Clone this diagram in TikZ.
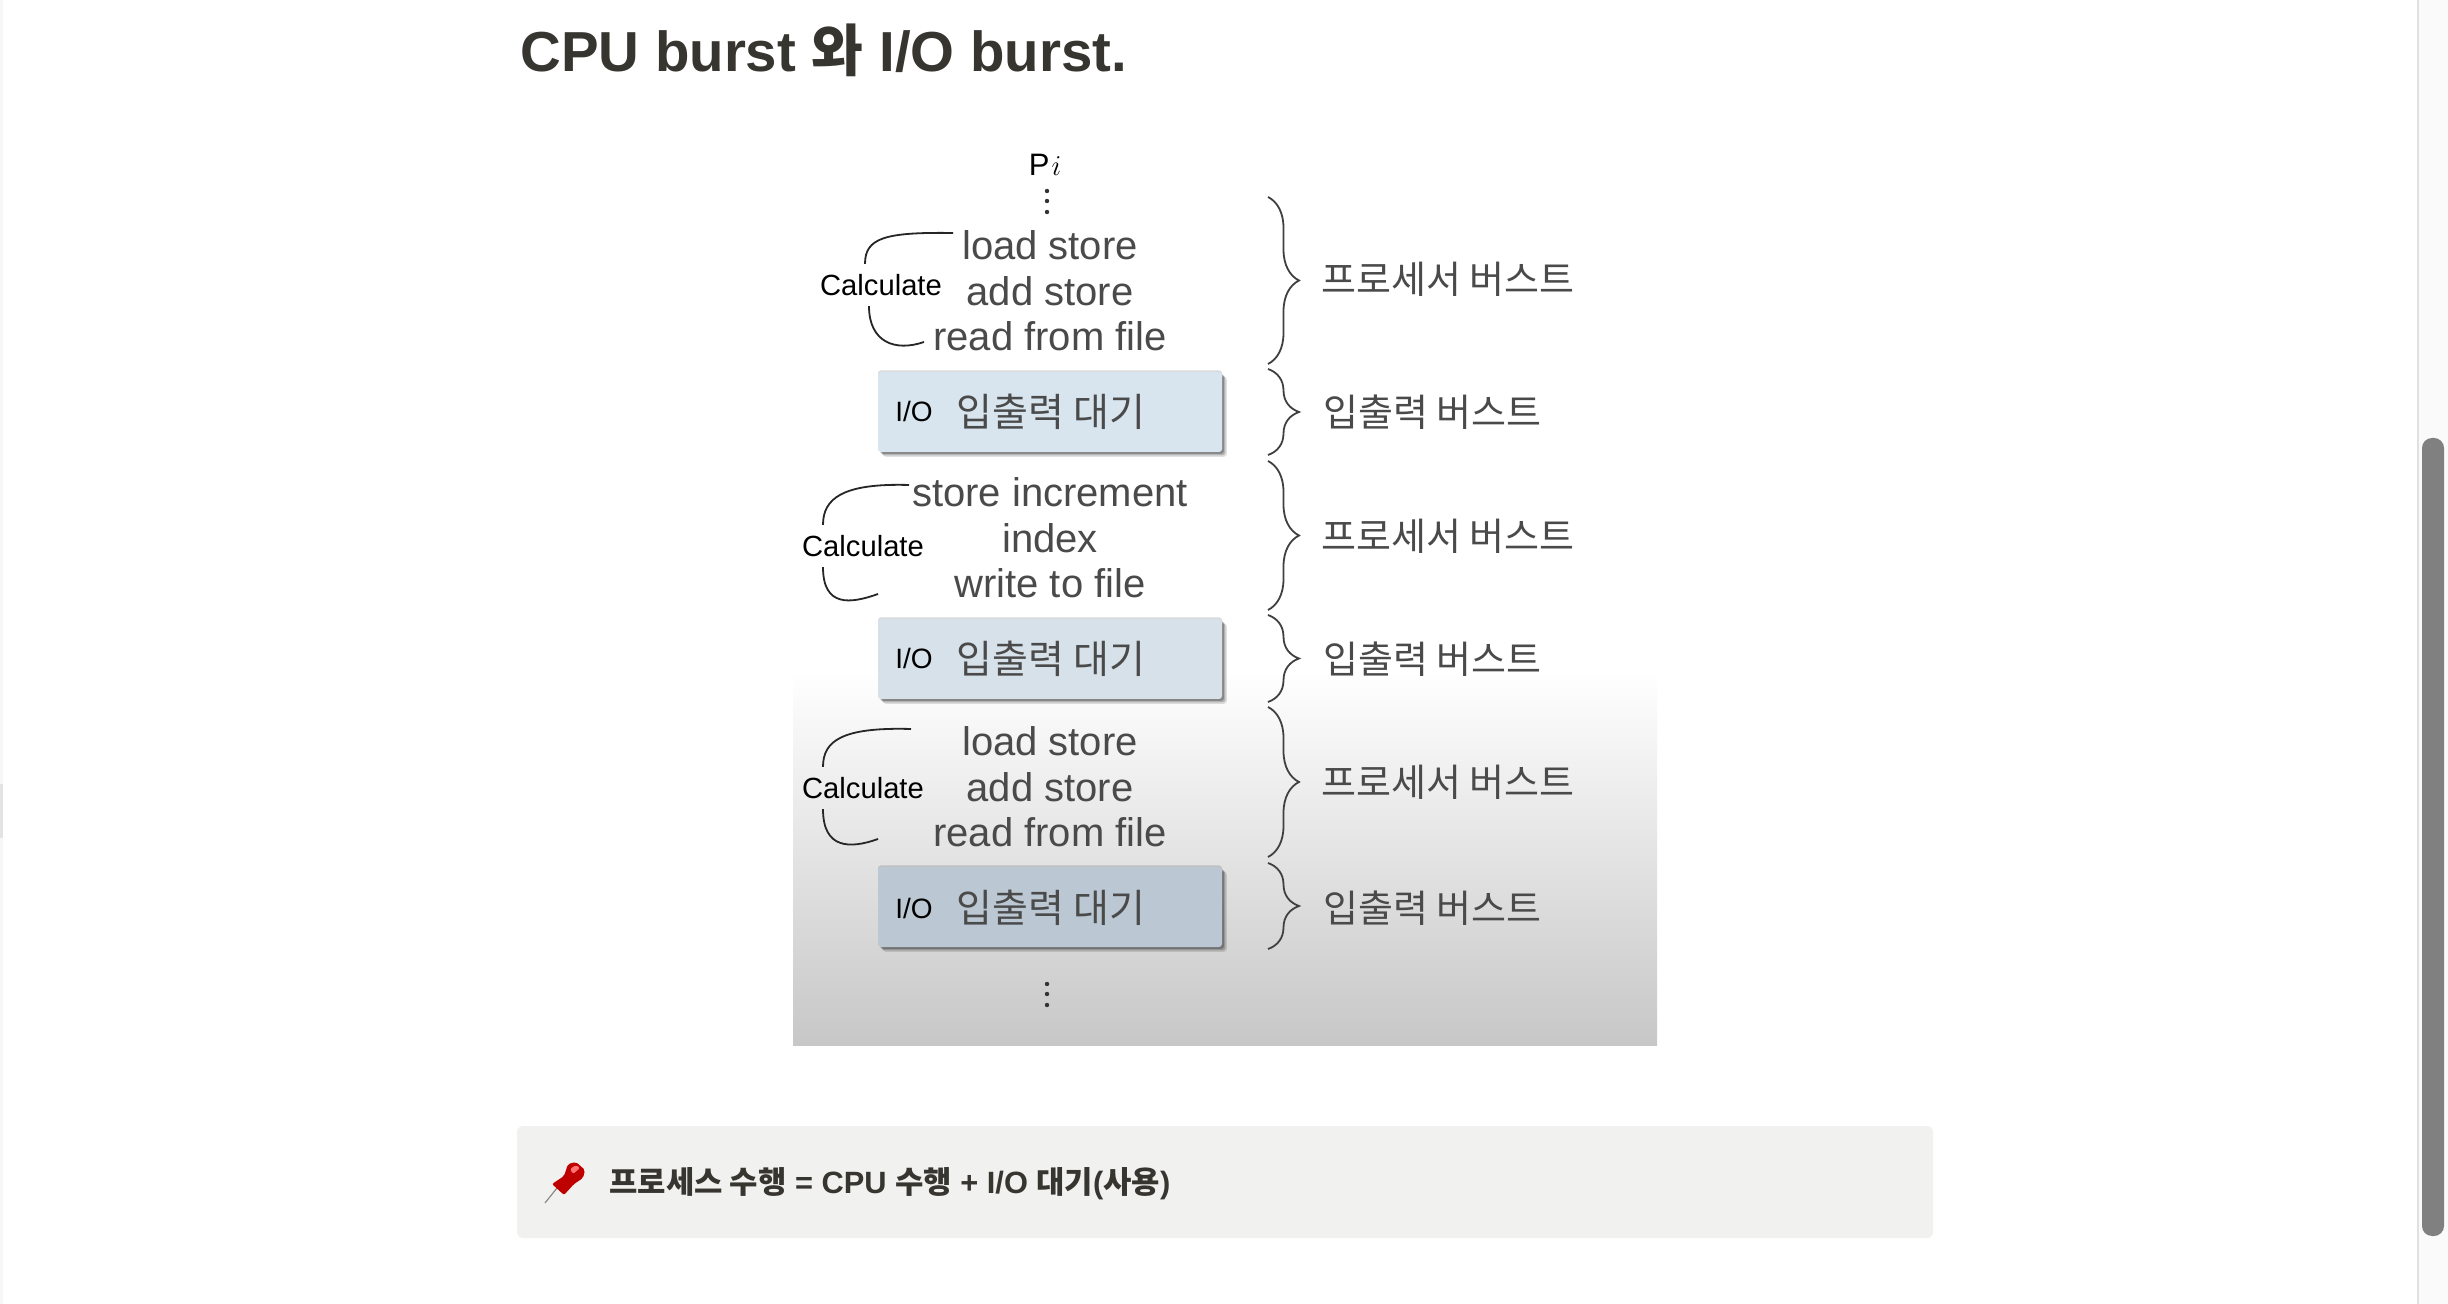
\documentclass[tikz,border=0pt]{standalone}
\usepackage{fontspec}
\setmainfont{Liberation Sans}
\newfontfamily\kofont{Noto Sans CJK KR}
\usetikzlibrary{positioning,shadows,decorations.pathreplacing}
\definecolor{inktitle}{HTML}{37352F}
\definecolor{inkgray}{HTML}{4A4A4A}
\definecolor{boxlight}{HTML}{D9E5EE}
\definecolor{boxmid}{HTML}{D6E1EA}
\definecolor{boxdark}{HTML}{BBC8D3}
\definecolor{calloutgray}{HTML}{F1F1EF}
\begin{document}
\begin{tikzpicture}[
    x = 0.5pt,
    y = -0.5pt,
    panel/.style = {
        rectangle,
        inner sep = 0pt,
        minimum width = 432pt,
        minimum height = 187pt,
        top color = white,
        bottom color = black!22
    },
    codeline/.style = {
        align = center,
        inner sep = 0pt,
        text = inkgray,
        font = \fontsize{20}{22.7}\selectfont
    },
    calc/.style = {
        inner sep = 0pt,
        font = \fontsize{14.6}{17}\selectfont
    },
    iobox/.style = {
        rectangle,
        rounded corners = 1.5pt,
        inner sep = 0pt,
        minimum width = 172pt,
        minimum height = 40pt,
        drop shadow = {shadow xshift = 2.4pt, shadow yshift = -2.4pt, opacity = 0.12, fill = black},
        drop shadow = {shadow xshift = 1.7pt, shadow yshift = -1.7pt, opacity = 0.18, fill = black},
        drop shadow = {shadow xshift = 1pt, shadow yshift = -1pt, opacity = 0.25, fill = black},
        drop shadow = {shadow xshift = 0pt, shadow yshift = 0.8pt, opacity = 0.15, fill = black}
    },
    iolabel/.style = {
        inner sep = 0pt,
        font = \fontsize{14}{17}\selectfont
    },
    wait/.style = {
        inner sep = 0pt,
        text = inkgray,
        font = \fontsize{19.5}{23}\selectfont\kofont
    },
    burst/.style = {
        anchor = west,
        inner sep = 0pt,
        text = inkgray,
        font = \fontsize{19}{23}\selectfont\kofont
    },
    bracket/.style = {line width = 0.9pt, color = black!85},
    curly/.style = {
        decorate,
        decoration = {brace, amplitude = 15.5pt, aspect = 0.5},
        line width = 0.9pt,
        color = black!75
    },
    dotmark/.style = {circle, fill = black!80, inner sep = 0pt, minimum size = 2.2pt}
]

\useasboundingbox (0, 0) rectangle (2448, 1304);

% Page and scrollbar
\fill[white] (0, 0) rectangle (2448, 1304);
\fill[black!3] (0, 0) rectangle (2.5, 1304);
\fill[black!11] (0, 784) rectangle (2.5, 838);
\fill[black!2] (2418, 0) rectangle (2448, 1304);
\draw[black!12, line width = 0.8pt] (2418, 0) -- (2418, 1304);
\fill[black!50, rounded corners = 5pt] (2422, 438) rectangle (2444, 1236);

% Title
\node[anchor = west, inner sep = 0pt, text = inktitle, font = \fontsize{28.2}{32}\selectfont\bfseries] (title) at (520, 50) {CPU burst {\kofont 와} I/O burst.};

% Gradient behind the lower half
\node[panel] (shade) at (1225, 858) {};

% Top of the process
\node[inner sep = 0pt, font = \fontsize{15.5}{17}\selectfont] (proc) at (1045, 165) {P\kern1pt$i$};
\node[dotmark] (dotTopA) at (1047, 191) {};
\node[dotmark] (dotTopB) at (1047, 201) {};
\node[dotmark] (dotTopC) at (1047, 212) {};

% First processor burst
\node[codeline] (codeA) at (1050, 291) {
    load store \\
    add store \\
    read from file
};
\node[calc] (calcA) at (881, 285) {Calculate};
\coordinate (upA) at (953, 233);
\coordinate (lowA) at (924, 342);
\draw[bracket] ([shift = {(-8pt, 5pt)}]calcA.north) .. controls +(0, 13pt) and (885, 232) .. (upA);
\draw[bracket] ([shift = {(-6pt, -5pt)}]calcA.south) .. controls +(0, -18pt) and (895, 352) .. (lowA);

% First I/O wait
\node[iobox, fill = boxlight] (ioA) at (1050, 412) {};
\node[iolabel] (ioLabelA) at (914, 411) {I/O};
\node[wait] (waitA) at (1051, 412) {입출력 대기};

% Second processor burst
\node[codeline] (codeB) at (1050, 538) {
    store increment \\
    index \\
    write to file
};
\node[calc] (calcB) at (863, 546) {Calculate};
\coordinate (upB) at (909, 485);
\coordinate (lowB) at (878, 594);
\draw[bracket] ([shift = {(-20pt, 5pt)}]calcB.north) .. controls +(0, 13pt) and (842, 483) .. (upB);
\draw[bracket] ([shift = {(-20pt, -5pt)}]calcB.south) .. controls +(0, -20pt) and (850, 604) .. (lowB);

% Second I/O wait
\node[iobox, fill = boxmid] (ioB) at (1050, 659) {};
\node[iolabel] (ioLabelB) at (914, 658) {I/O};
\node[wait] (waitB) at (1051, 659) {입출력 대기};

% Third processor burst
\node[codeline] (codeC) at (1050, 787) {
    load store \\
    add store \\
    read from file
};
\node[calc] (calcC) at (863, 788) {Calculate};
\coordinate (upC) at (911, 729);
\coordinate (lowC) at (878, 839);
\draw[bracket] ([shift = {(-20pt, 5pt)}]calcC.north) .. controls +(0, 13pt) and (842, 727) .. (upC);
\draw[bracket] ([shift = {(-20pt, -5pt)}]calcC.south) .. controls +(0, -20pt) and (850, 849) .. (lowC);

% Third I/O wait
\node[iobox, fill = boxdark] (ioC) at (1050, 907) {};
\node[iolabel] (ioLabelC) at (914, 908) {I/O};
\node[wait] (waitC) at (1051, 908) {입출력 대기};

\node[dotmark] (dotEndA) at (1047, 984) {};
\node[dotmark] (dotEndB) at (1047, 994) {};
\node[dotmark] (dotEndC) at (1047, 1005) {};

% Burst labels on the right
\node[burst] (burstA) at (1321, 279) {프로세서 버스트};
\node[burst] (burstB) at (1323, 412) {입출력 버스트};
\node[burst] (burstC) at (1321, 536) {프로세서 버스트};
\node[burst] (burstD) at (1323, 659) {입출력 버스트};
\node[burst] (burstE) at (1321, 782) {프로세서 버스트};
\node[burst] (burstF) at (1323, 908) {입출력 버스트};

% Braces
\draw[curly] (1268, 197) -- (1268, 364);
\draw[curly] (1268, 369) -- (1268, 455);
\draw[curly] (1268, 461) -- (1268, 610);
\draw[curly] (1268, 615) -- (1268, 702);
\draw[curly] (1268, 707) -- (1268, 857);
\draw[curly] (1268, 863) -- (1268, 949);

% Callout
\node[rectangle, fill = calloutgray, rounded corners = 3pt, minimum width = 708pt, minimum height = 56pt, inner sep = 0pt] (callout) at (1225, 1182) {};

% Pushpin
\draw[black!45, line width = 0.6pt] (545, 1203) -- (557, 1188);
\fill[red!75!black, rounded corners = 1pt] (564, 1195) -- (552, 1184) -- (564, 1176) -- (568, 1164) -- (576, 1162) -- (585, 1170) -- (583, 1178) -- (574, 1184) -- cycle;
\fill[red!55!white, rounded corners = 1pt] (570, 1169) -- (576, 1165) -- (580, 1168) -- (573, 1174) -- cycle;

\node[anchor = west, inner sep = 0pt, text = inktitle, font = \fontsize{15.4}{19}\selectfont\bfseries] (sum) at (609, 1184) {{\kofont 프로세스 수행} = CPU {\kofont 수행} + I/O {\kofont 대기}({\kofont 사용})};

\end{tikzpicture}
\end{document}
